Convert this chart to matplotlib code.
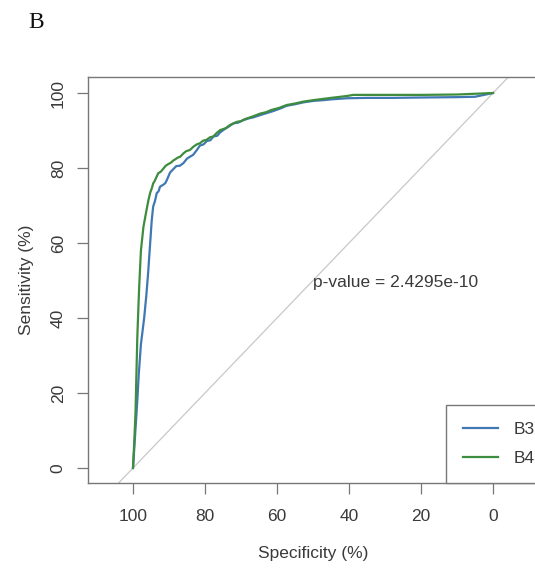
import matplotlib
matplotlib.use("Agg")
import matplotlib.pyplot as plt

# ---- data ----
b3_spec = [100, 99.6, 99.2, 98.8, 98.4, 97.8, 96.9, 96.3, 95.8, 95.3, 94.8, 94.4,
           93.9, 93.4, 92.9, 92.5, 91.5, 91.0, 90.6, 89.7, 89.0, 88.0, 87.0, 86.0,
           85.0, 84.2, 83.3, 82.5, 81.4, 80.4, 79.5, 78.5, 77.7, 76.6, 75.8, 74.5,
           73.5, 72.1, 70.8, 69.5, 68.0, 66.6, 64.7, 63.0, 61.0, 59.0, 57.3, 55.0,
           52.7, 49.9, 47.0, 45.0, 40.6, 35.0, 28.0, 20.0, 10.0, 5.0, 0]
b3_sens = [0, 6, 12, 18, 25, 33, 40, 46, 52, 59, 66, 69.7,
           71.2, 73.3, 73.8, 75.0, 75.6, 76.0, 76.8, 78.8, 79.5, 80.5, 80.6, 81.3,
           82.5, 83.0, 83.5, 84.5, 86.0, 86.3, 87.2, 87.4, 88.4, 88.6, 89.5, 90.4,
           91.0, 91.9, 92.1, 92.7, 93.2, 93.5, 94.1, 94.6, 95.2, 95.9, 96.6, 97.0,
           97.5, 97.9, 98.1, 98.3, 98.6, 98.7, 98.7, 98.8, 98.9, 99.0, 100]

b4_spec = [100, 99.6, 99.3, 98.8, 98.3, 97.8, 97.1, 96.3, 95.7, 95.2, 94.8, 94.4,
           94.0, 93.0, 92.3, 91.6, 90.9, 90.3, 89.5, 88.8, 87.5, 86.9, 86.0, 85.2,
           84.2, 83.2, 82.3, 81.4, 80.5, 79.6, 78.6, 77.7, 76.8, 75.8, 74.3, 73.0,
           71.2, 70.0, 69.0, 66.6, 64.7, 63.0, 61.5, 59.5, 57.3, 55.0, 52.7, 49.9,
           45.0, 40.6, 38.8, 31.4, 20.0, 10.0, 0]
b4_sens = [0, 8, 15, 35, 48, 58, 64.3, 68.5, 71.5, 73.5, 74.5, 75.9,
           76.5, 78.6, 79.0, 79.8, 80.6, 81.0, 81.4, 82.0, 82.8, 83.0, 83.9, 84.5,
           84.8, 85.7, 86.3, 86.6, 87.3, 87.5, 88.2, 88.4, 89.3, 90.1, 90.6, 91.5,
           92.3, 92.5, 93.0, 93.8, 94.5, 94.9, 95.5, 96.0, 96.8, 97.2, 97.7, 98.1,
           98.7, 99.2, 99.5, 99.5, 99.5, 99.6, 100]

series_names = ["B3", "B4"]
series_colors = ["#3f78b3", "#3e8c3e"]
x_ticks = [100, 80, 60, 40, 20, 0]
y_ticks = [0, 20, 40, 60, 80, 100]
pvalue_text = "p-value = 2.4295e-10"

# ---- figure ----
plt.rcParams["font.family"] = ["Liberation Sans", "DejaVu Sans"]
fig = plt.figure(figsize=(5.35, 5.71), dpi=100)
ax = fig.add_axes([88 / 535, 88 / 571, 450 / 535, 406 / 571])

ax.set_xlim(112.5, -12.5)
ax.set_ylim(-4, 104.27)

ax.axline((100, 0), (0, 100), color="#c8c8c8", lw=0.9, zorder=1)

ax.plot(b3_spec, b3_sens, color=series_colors[0], lw=1.6, label=series_names[0], zorder=3)
ax.plot(b4_spec, b4_sens, color=series_colors[1], lw=1.6, label=series_names[1], zorder=4)

ax.text(50, 49.6, pvalue_text, ha="left", va="center", fontsize=12.5, color="#3a3a3a")

ax.set_xticks(x_ticks)
ax.set_yticks(y_ticks)
ax.set_xticklabels([str(t) for t in x_ticks])
ax.set_yticklabels([str(t) for t in y_ticks])
ax.tick_params(axis="both", direction="out", length=8, width=0.9, color="#777777",
               labelsize=12.5, labelcolor="#3a3a3a")
ax.tick_params(axis="x", pad=11)
ax.tick_params(axis="y", pad=8, labelrotation=90)
for lab in ax.get_yticklabels():
    lab.set_verticalalignment("center")

for side in ["left", "bottom", "top", "right"]:
    ax.spines[side].set_color("#777777")
    ax.spines[side].set_linewidth(1.0)

ax.set_xlabel("Specificity (%)", fontsize=12.5, color="#3a3a3a")
ax.set_ylabel("Sensitivity (%)", fontsize=12.5, color="#3a3a3a")
ax.xaxis.set_label_coords(0.5, -0.155)
ax.yaxis.set_label_coords(-0.12, 0.5)

leg = ax.legend(loc="lower left", bbox_to_anchor=((446 - 88) / 450, 0.0),
                borderaxespad=0, fontsize=12.5, handlelength=2.0,
                handletextpad=0.9, labelspacing=0.75, borderpad=1.0,
                fancybox=False, framealpha=1, edgecolor="#777777")
leg.get_frame().set_linewidth(1.0)
for t in leg.get_texts():
    t.set_color("#3a3a3a")

fig.text(28 / 535, 1 - 22 / 571, "B", fontsize=17, family=["Liberation Serif", "DejaVu Serif"],
         ha="left", va="center", color="#111111")

fig.savefig("out.png", dpi=100)
